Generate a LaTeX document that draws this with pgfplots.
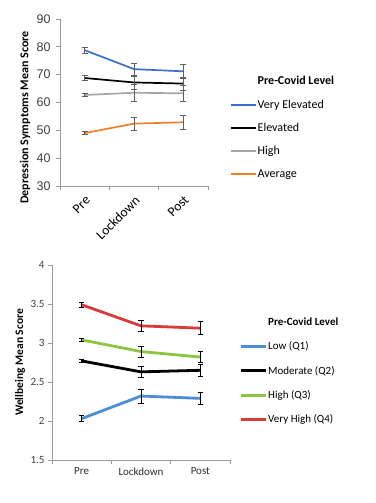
\documentclass[border=0pt]{standalone}
\usepackage{fontspec}
\setmainfont{Carlito}
\newfontfamily\arialf{Liberation Sans}
\usepackage{pgfplots}
\pgfplotsset{compat=1.18}
\definecolor{tblue}{HTML}{3A6FD0}
\definecolor{tgray}{HTML}{A6A6A6}
\definecolor{torange}{HTML}{F07F2C}
\definecolor{bblue}{HTML}{4A8FD6}
\definecolor{bgreen}{HTML}{8CC63E}
\definecolor{bred}{HTML}{D93A3A}
\definecolor{axgray}{HTML}{9A9A9A}
\definecolor{txtgray}{HTML}{404040}
\pgfplotsset{
  common/.style={
    scale only axis, anchor=south west,
    xmin=-0.5, xmax=2.5,
    xtick={0,1,2}, xticklabels={Pre,Lockdown,Post},
    minor xtick={-0.5,0.5,1.5,2.5},
    axis lines*=left,
    axis line style={axgray, line width=0.8pt},
    tick align=outside,
    major x tick style={draw=none},
    minor x tick style={axgray, line width=0.8pt},
    ytick style={axgray, line width=0.8pt},
    major tick length=4pt, minor tick length=4pt,
    /pgf/number format/assume math mode=true,
    ticklabel style={text=txtgray},
    legend cell align=left,
    legend image code/.code={\draw[##1] (0pt,0pt) -- (25pt,0pt);},
  },
  ebar/.style={forget plot, draw=none, mark=none,
    error bars/y dir=both, error bars/y explicit},
}
\begin{document}
\begin{tikzpicture}[x=1pt,y=1pt]
\path[use as bounding box] (0,0) rectangle (375,503);
% ---------- top chart ----------
\begin{axis}[common,
  at={(60pt,317pt)}, width=148pt, height=167pt,
  ymin=30, ymax=90, ytick={30,40,...,90},
  yticklabel style={font=\arialf\fontsize{12.5}{14}\selectfont, xshift=-2pt},
  xticklabel style={rotate=45, anchor=north east, font=\fontsize{13.5}{15}\selectfont, text=black},
  ylabel={\textbf{Depression Symptoms Mean Score}},
  ylabel style={at={(axis description cs:-0.235,0.41)}, anchor=center, font=\fontsize{12}{14}\selectfont},
  legend style={at={(axis description cs:1.125,0.675)}, anchor=north west, draw=none, fill=none,
    font=\fontsize{12}{14}\selectfont, row sep=11.5pt, nodes={inner sep=1pt}},
  ebstyle/.style={error bars/error bar style={gray!75!black, line width=0.6pt},
    error bars/error mark options={rotate=90, mark size=3pt, gray!75!black, line width=0.6pt}},
]
\addlegendimage{empty legend}
\addlegendentry{\textbf{Pre-Covid Level}}
\addlegendimage{tblue, line width=2pt}
\addlegendentry{Very Elevated}
\addlegendimage{black, line width=2pt}
\addlegendentry{Elevated}
\addlegendimage{tgray, line width=2pt}
\addlegendentry{High}
\addlegendimage{torange, line width=2pt}
\addlegendentry{Average}
\addplot[forget plot, tblue, line width=1.7pt] coordinates {(0,78.8) (1,72.0) (2,71.2)};
\addplot[forget plot, black, line width=1.7pt] coordinates {(0,68.8) (1,67.2) (2,66.8)};
\addplot[forget plot, tgray, line width=1.7pt] coordinates {(0,62.7) (1,63.5) (2,63.3)};
\addplot[forget plot, torange, line width=1.7pt] coordinates {(0,49.0) (1,52.4) (2,52.9)};
\addplot[ebar, ebstyle] coordinates {(0,78.8) +- (0,1.2) (1,72.0) +- (0,2.2) (2,71.2) +- (0,2.5)};
\addplot[ebar, ebstyle] coordinates {(0,68.8) +- (0,1.0) (1,67.2) +- (0,2.3) (2,66.8) +- (0,2.3)};
\addplot[ebar, ebstyle] coordinates {(0,62.7) +- (0,0.5) (1,63.5) +- (0,3.0) (2,63.3) +- (0,2.8)};
\addplot[ebar, ebstyle] coordinates {(0,49.0) +- (0,0.5) (1,52.4) +- (0,2.4) (2,52.9) +- (0,2.4)};
\end{axis}
% ---------- bottom chart ----------
\begin{axis}[common,
  at={(52pt,43pt)}, width=178pt, height=195pt,
  ymin=1.5, ymax=4, ytick={1.5,2,...,4},
  yticklabel style={/pgf/number format/fixed, /pgf/number format/precision=1},
  ticklabel style={font=\fontsize{11}{13}\selectfont},
  xticklabel style={text=txtgray!70!black},
  ylabel={\textbf{Wellbeing Mean Score}},
  ylabel style={at={(axis description cs:-0.18,0.5)}, anchor=center, font=\fontsize{11.5}{14}\selectfont},
  legend style={at={(axis description cs:1.035,0.745)}, anchor=north west, draw=none, fill=none,
    font=\fontsize{11}{13}\selectfont, row sep=12.7pt, nodes={inner sep=1pt}},
  ebstyle/.style={error bars/error bar style={black, line width=1pt},
    error bars/error mark options={rotate=90, mark size=2.5pt, black, line width=1pt}},
]
\addlegendimage{empty legend}
\addlegendentry{\textbf{Pre-Covid Level}}
\addlegendimage{bblue, line width=2.8pt}
\addlegendentry{Low (Q1)}
\addlegendimage{black, line width=2.8pt}
\addlegendentry{Moderate (Q2)}
\addlegendimage{bgreen, line width=2.8pt}
\addlegendentry{High (Q3)}
\addlegendimage{bred, line width=2.8pt}
\addlegendentry{Very High (Q4)}
\addplot[forget plot, bblue, line width=2.8pt] coordinates {(0,2.03) (1,2.32) (2,2.29)};
\addplot[forget plot, black, line width=2.8pt] coordinates {(0,2.77) (1,2.63) (2,2.65)};
\addplot[forget plot, bgreen, line width=2.8pt] coordinates {(0,3.04) (1,2.89) (2,2.82)};
\addplot[forget plot, bred, line width=2.8pt] coordinates {(0,3.49) (1,3.22) (2,3.19)};
\addplot[ebar, ebstyle] coordinates {(0,2.03) +- (0,0.04) (1,2.32) +- (0,0.09) (2,2.29) +- (0,0.08)};
\addplot[ebar, ebstyle] coordinates {(0,2.77) +- (0,0.02) (1,2.63) +- (0,0.07) (2,2.65) +- (0,0.08)};
\addplot[ebar, ebstyle] coordinates {(0,3.04) +- (0,0.02) (1,2.89) +- (0,0.07) (2,2.82) +- (0,0.07)};
\addplot[ebar, ebstyle] coordinates {(0,3.49) +- (0,0.03) (1,3.22) +- (0,0.07) (2,3.19) +- (0,0.08)};
\end{axis}
\end{tikzpicture}
\end{document}
